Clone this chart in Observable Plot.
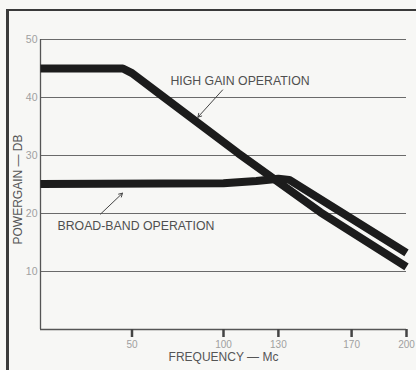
<!DOCTYPE html>
<html>
<head>
<meta charset="utf-8">
<script src="https://cdn.jsdelivr.net/npm/d3@7"></script>
<script src="https://cdn.jsdelivr.net/npm/@observablehq/plot@0.6"></script>
<style>
  html, body { margin: 0; padding: 0; background: #f7f7f5; }
  #wrap { position: relative; width: 416px; height: 370px; overflow: hidden; }
  #border { position: absolute; left: 6px; top: 9px; right: -4px; bottom: -4px;
            border-top: 2px solid #3a3a3a; border-left: 3px solid #3a3a3a; }
  #chart { position: absolute; left: 0; top: 0; }
</style>
</head>
<body>
<div id="wrap"><div id="border"></div><div id="chart"></div></div>
<script>
// High-gain operation (frequency Mc, power gain dB)
const highFreq = [0, 45, 50, 66, 108, 153, 200];
const highGain = [45, 45, 44.2, 40.4, 30.4, 20.2, 10.8];
// Broad-band operation
const broadFreq = [0, 100, 118, 130, 136, 200];
const broadGain = [25.1, 25.2, 25.6, 26, 25.8, 13.2];

const xTicks = [50, 100, 130, 170, 200];
const yTicks = [10, 20, 30, 40, 50];
const xLabel = "FREQUENCY — Mc";
const yLabel = "POWERGAIN — DB";
const highLabel = "HIGH GAIN OPERATION";
const broadLabel = "BROAD-BAND OPERATION";

const high = highFreq.map((f, i) => ({f, g: highGain[i]}));
const broad = broadFreq.map((f, i) => ({f, g: broadGain[i]}));

const chart = Plot.plot({
  width: 416,
  height: 370,
  marginLeft: 40,
  marginRight: 10,
  marginTop: 39,
  marginBottom: 41,
  style: {background: "transparent", fontFamily: "Liberation Sans, sans-serif"},
  x: {domain: [0, 200]},
  y: {domain: [0, 50]},
  marks: [
    Plot.ruleY(yTicks, {stroke: "#6a6a6a", strokeWidth: 1}),
    Plot.ruleY([0], {stroke: "#555", strokeWidth: 1.3}),
    Plot.ruleX([0], {stroke: "#555", strokeWidth: 1.3}),
    Plot.axisY({ticks: yTicks, tickSize: 0, tickPadding: 3, fontSize: 10.5, color: "#a0a0a0", label: null}),
    Plot.axisX({ticks: xTicks, tickSize: 8, strokeWidth: 2.5, stroke: "#444", tickPadding: 3,
                fontSize: 10, color: "#a0a0a0", label: null}),
    Plot.text([xLabel], {frameAnchor: "bottom", text: d => d, dy: 31, fontSize: 12, fill: "#555"}),
    Plot.text([yLabel], {frameAnchor: "left", textAnchor: "middle", text: d => d, rotate: -90,
                         dx: -22, dy: 5, fontSize: 12, fill: "#555"}),
    Plot.line(high, {x: "f", y: "g", stroke: "#1c1c1c", strokeWidth: 8,
                     strokeLinejoin: "round", strokeLinecap: "butt"}),
    Plot.line(broad, {x: "f", y: "g", stroke: "#1c1c1c", strokeWidth: 8,
                      strokeLinejoin: "round", strokeLinecap: "butt"}),
    Plot.text([highLabel], {x: 71, y: 42.9, text: d => d, textAnchor: "start", fontSize: 12.3, fill: "#4f4f4f"}),
    Plot.text([broadLabel], {x: 9.3, y: 17.8, text: d => d, textAnchor: "start", fontSize: 12.3, fill: "#4f4f4f"}),
    Plot.arrow([0], {x1: 99.5, y1: 41.3, x2: 86, y2: 36.6, stroke: "#444", strokeWidth: 1, headLength: 6}),
    Plot.arrow([0], {x1: 32.8, y1: 19.9, x2: 44.8, y2: 23.5, stroke: "#444", strokeWidth: 1, headLength: 6})
  ]
});
document.getElementById("chart").appendChild(chart);
</script>
</body>
</html>
